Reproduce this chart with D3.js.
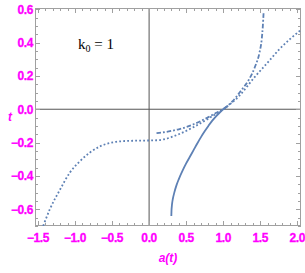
<!DOCTYPE html>
<html><head><meta charset="utf-8">
<script src="https://cdn.jsdelivr.net/npm/d3@7"></script>
<style>body{margin:0;background:#fff}svg{display:block}</style>
</head><body>
<svg id="c" width="305" height="273"></svg>
<script>
const xTicks = [-1.5, -1.0, -0.5, 0.0, 0.5, 1.0, 1.5, 2.0];
const yTicks = [-0.6, -0.4, -0.2, 0.0, 0.2, 0.4, 0.6];
const xLabel = "a(t)";
const yLabel = "t";

// solid curve
const solidA = [0.300, 0.302, 0.306, 0.312, 0.32, 0.34, 0.37, 0.40, 0.45, 0.50, 0.55, 0.60, 0.65, 0.70, 0.75, 0.80, 0.85, 0.90, 0.95, 1.00, 1.05];
const solidT = [-0.640, -0.610, -0.585, -0.560, -0.538, -0.50, -0.455, -0.42, -0.37, -0.325, -0.285, -0.245, -0.205, -0.167, -0.132, -0.100, -0.070, -0.044, -0.021, 0.0, 0.018];
// dot-dashed curve
const dashA = [0.10, 0.20, 0.30, 0.40, 0.50, 0.60, 0.70, 0.80, 0.90, 1.00, 1.12, 1.25, 1.35, 1.43, 1.49, 1.52, 1.535, 1.545];
const dashT = [-0.143, -0.138, -0.130, -0.120, -0.107, -0.090, -0.070, -0.047, -0.023, 0.0, 0.045, 0.117, 0.18, 0.256, 0.34, 0.42, 0.50, 0.578];
// dotted curve
const dotA = [-1.43, -1.34, -1.20, -1.07, -0.93, -0.80, -0.66, -0.48, -0.30, -0.10, 0.10, 0.20, 0.40, 0.60, 0.80, 0.90, 1.00, 1.21, 1.43, 1.60, 1.75, 1.90, 2.05];
const dotT = [-0.70, -0.60, -0.48, -0.38, -0.31, -0.26, -0.222, -0.198, -0.190, -0.188, -0.186, -0.180, -0.150, -0.107, -0.056, -0.028, 0.0, 0.077, 0.196, 0.28, 0.356, 0.42, 0.476];

const L = 35, R = 301, T = 8, B = 226;
const x = d3.scaleLinear().domain([-1.54, 2.05]).range([L, R]);
const y = d3.scaleLinear().domain([-0.70, 0.607]).range([B, T]);
const svg = d3.select("#c");
const magenta = "#ff00ff";
const blue = "#5e81b5";
const frameCol = "#a0a0a0";

svg.append("clipPath").attr("id","clip").append("rect").attr("x",L).attr("y",T).attr("width",R-L).attr("height",B-T);

// zero axes
svg.append("line").attr("x1",x(0)).attr("x2",x(0)).attr("y1",T).attr("y2",B).attr("stroke","#555").attr("stroke-width",1);
svg.append("line").attr("x1",L).attr("x2",R).attr("y1",y(0)).attr("y2",y(0)).attr("stroke","#555").attr("stroke-width",1);

// ticks
const xMinor = d3.range(-15, 21).map(i => i / 10);
const yMinor = d3.range(-14, 13).map(i => i / 20);
const tg = svg.append("g").attr("stroke", frameCol).attr("stroke-width", 1);
xMinor.forEach(v => {
  const major = xTicks.some(t => Math.abs(t - v) < 1e-6);
  const len = major ? 5 : 3;
  const px = Math.round(x(v)) + 0.5;
  tg.append("line").attr("x1",px).attr("x2",px).attr("y1",B).attr("y2",B-len);
  tg.append("line").attr("x1",px).attr("x2",px).attr("y1",T).attr("y2",T+len);
});
yMinor.forEach(v => {
  const major = yTicks.some(t => Math.abs(t - v) < 1e-6);
  const len = major ? 5 : 3;
  const py = Math.round(y(v)) + 0.5;
  tg.append("line").attr("x1",L).attr("x2",L+len).attr("y1",py).attr("y2",py);
  tg.append("line").attr("x1",R).attr("x2",R-len).attr("y1",py).attr("y2",py);
});

// frame
svg.append("rect").attr("x",L+0.5).attr("y",T+0.5).attr("width",R-L-1).attr("height",B-T-1)
  .attr("fill","none").attr("stroke",frameCol).attr("stroke-width",1);

// curves
const line = d3.line().x(d => x(d[0])).y(d => y(d[1])).curve(d3.curveMonotoneX);
const cg = svg.append("g").attr("clip-path","url(#clip)").attr("fill","none").attr("stroke",blue).attr("stroke-width",1.8);
cg.append("path").attr("d", line(dotA.map((a,i)=>[a,dotT[i]]))).attr("stroke-dasharray","1.8,2.2");
cg.append("path").attr("d", line(dashA.map((a,i)=>[a,dashT[i]]))).attr("stroke-dasharray","4.5,2,1.8,2");
cg.append("path").attr("d", line(solidA.map((a,i)=>[a,solidT[i]])));

// tick labels
const fmt = v => (v < 0 ? "\u2212" : "") + Math.abs(v).toFixed(1);
const lf = "'Liberation Sans Narrow','Arial Narrow','Liberation Sans',sans-serif";
svg.append("g").selectAll("text").data(xTicks).join("text")
  .attr("x", d => x(d)).attr("y", B + 16)
  .attr("text-anchor","middle").attr("fill",magenta).attr("stroke",magenta).attr("stroke-width",0.3)
  .attr("font-family",lf).attr("font-weight","bold").attr("font-size",12).attr("letter-spacing",-0.4).text(fmt);
svg.append("g").selectAll("text").data(yTicks).join("text")
  .attr("x", L - 2).attr("y", d => y(d) + 4.5)
  .attr("text-anchor","end").attr("fill",magenta).attr("stroke",magenta).attr("stroke-width",0.3)
  .attr("font-family",lf).attr("font-weight","bold").attr("font-size",12).attr("letter-spacing",-0.4).text(fmt);

// axis labels
svg.append("text").attr("x",168).attr("y",262).attr("text-anchor","middle")
  .attr("fill",magenta).attr("font-family",lf).attr("font-style","italic").attr("font-weight","bold")
  .attr("font-size",12).text(xLabel);
svg.append("text").attr("x",10).attr("y",121).attr("text-anchor","middle")
  .attr("fill",magenta).attr("font-family",lf).attr("font-style","italic").attr("font-weight","bold")
  .attr("font-size",12).text(yLabel);

// annotation
const k = svg.append("text").attr("x",78).attr("y",49).attr("font-family","'Liberation Serif','Times New Roman',serif")
  .attr("font-size",15).attr("fill","#000");
k.append("tspan").text("k");
k.append("tspan").attr("font-size",10).attr("dy",3).text("0");
k.append("tspan").attr("dy",-3).text(" = 1");
</script>
</body></html>
